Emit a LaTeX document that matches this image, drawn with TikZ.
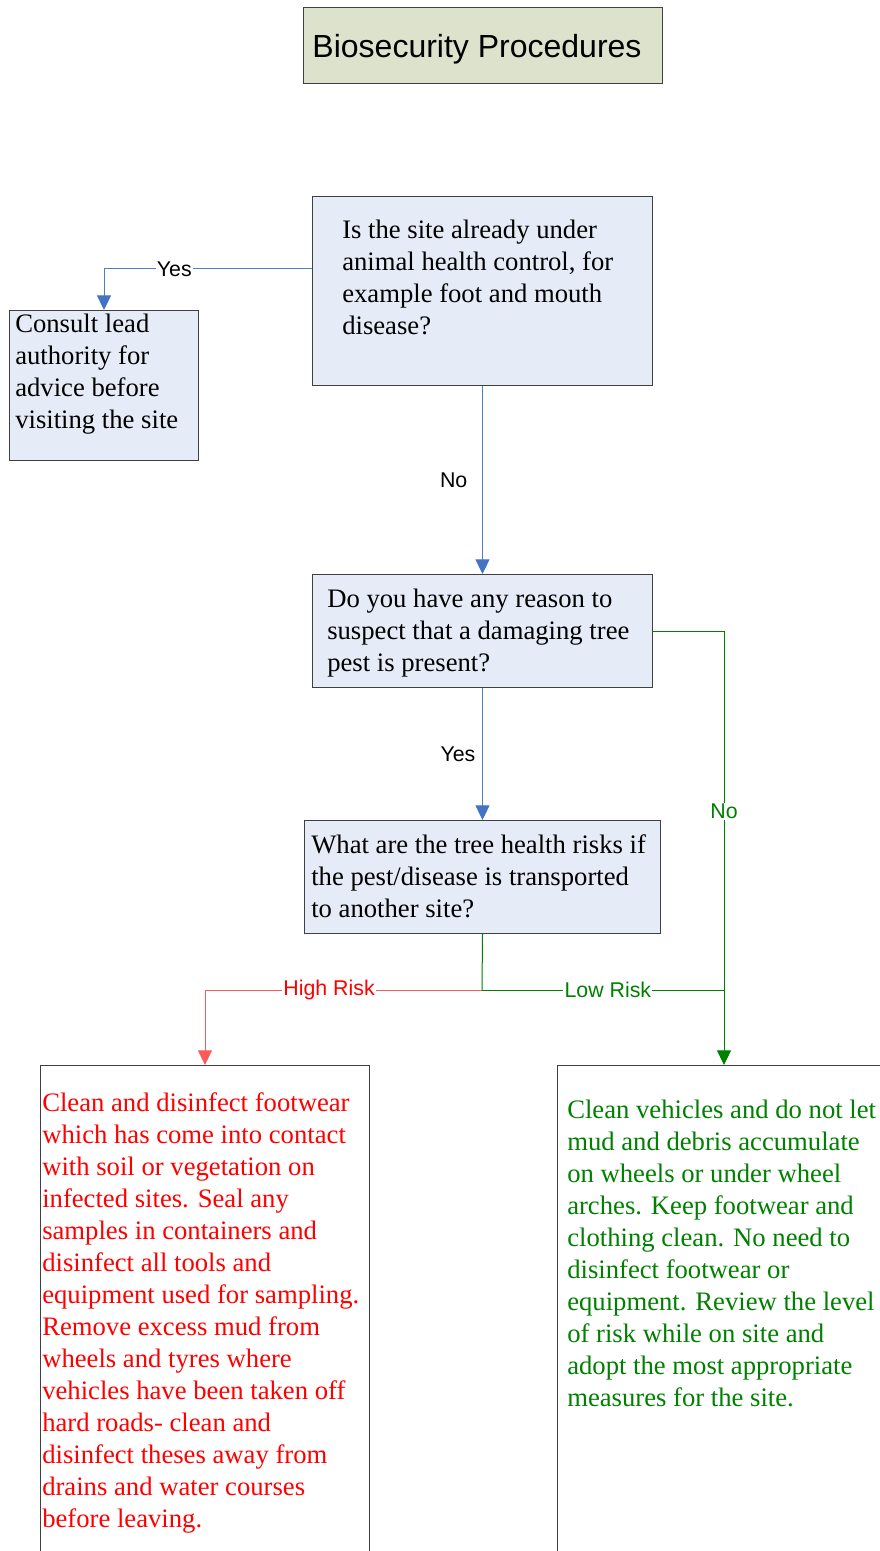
\documentclass[tikz,border=0pt]{standalone}
\usepackage{fontspec}
\setmainfont{Liberation Serif}
\setsansfont{Liberation Sans}
\usetikzlibrary{arrows.meta}

\definecolor{titlefill}{RGB}{221,226,204}
\definecolor{boxfill}{RGB}{230,236,247}
\definecolor{boxline}{RGB}{64,64,64}
\definecolor{flowblue}{RGB}{79,129,189}
\definecolor{tipblue}{RGB}{68,114,196}
\definecolor{riskred}{RGB}{255,0,0}
\definecolor{redline}{RGB}{255,90,90}
\definecolor{riskgreen}{RGB}{0,128,0}

\tikzset{
  flowbox/.style={draw=boxline, line width=0.75pt, fill=boxfill, anchor=north west, inner sep=0pt},
  boxtext/.style={anchor=north west, inner sep=0pt, align=left, font=\fontsize{20pt}{24pt}\selectfont},
  lbl/.style={font=\sffamily\fontsize{16pt}{18pt}\selectfont, inner sep=1pt},
  blueflow/.style={draw=flowblue, line width=0.75pt, -{Triangle[width=10.5pt,length=11pt,color=tipblue]}},
  redflow/.style={draw=redline, line width=0.75pt, -{Triangle[width=10.5pt,length=11pt,color=redline]}},
  greenflow/.style={draw=riskgreen, line width=0.75pt, -{Triangle[width=10.5pt,length=11pt,color=riskgreen]}},
  greenline/.style={draw=riskgreen, line width=0.75pt}
}

\begin{document}
\begin{tikzpicture}[x=0.75pt,y=-0.75pt]
\clip (0,0) rectangle (880,1551);

\node[flowbox, fill=titlefill, minimum width=269.25pt, minimum height=57pt, text depth=0pt, font=\sffamily\fontsize{24pt}{28pt}\selectfont] (title) at (303,7) {Biosecurity Procedures\hspace*{9pt}};

\node[flowbox, minimum width=255pt, minimum height=141.75pt] (siteq) at (312,196) {};
\node[boxtext] (sitetext) at (342,219.5) {Is the site already under\\animal health control, for\\example foot and mouth\\disease?};

\node[flowbox, minimum width=141.75pt, minimum height=112.5pt] (consult) at (9,310) {};
\node[boxtext] (consulttext) at (15,313.5) {Consult lead\\authority for\\advice before\\visiting the site};

\node[flowbox, minimum width=255pt, minimum height=84.75pt] (pestq) at (312,574) {};
\node[boxtext] (pesttext) at (327,588.5) {Do you have any reason to\\suspect that a damaging tree\\pest is present?};

\node[flowbox, minimum width=267pt, minimum height=84.75pt] (riskq) at (304,820) {};
\node[boxtext] (risktext) at (311,834.5) {What are the tree health risks if\\the pest/disease is transported\\to another site?};

\node[flowbox, fill=white, minimum width=246.75pt, minimum height=450pt] (highbox) at (40,1065) {};
\node[boxtext, text=riskred] (hightext) at (42,1092.5) {Clean and disinfect footwear\\which has come into contact\\with soil or vegetation on\\infected sites. Seal any\\samples in containers and\\disinfect all tools and\\equipment used for sampling.\\Remove excess mud from\\wheels and tyres where\\vehicles have been taken off\\hard roads- clean and\\disinfect theses away from\\drains and water courses\\before leaving.};

\node[flowbox, fill=white, minimum width=300pt, minimum height=450pt] (lowbox) at (557,1065) {};
\node[boxtext, text=riskgreen] (lowtext) at (567,1099.5) {Clean vehicles and do not let\\mud and debris accumulate\\on wheels or under wheel\\arches. Keep footwear and\\clothing clean. No need to\\disinfect footwear or\\equipment. Review the level\\of risk while on site and\\adopt the most appropriate\\measures for the site.};

\coordinate (split) at (482,990);
\coordinate (join) at (724,990);

\draw[blueflow] ([yshift=-54.75pt]siteq.north west) -| node[lbl, pos=0.331, fill=white] (yesa) {Yes} (consult.north);
\draw[blueflow] (siteq.south) -- node[lbl, midway, left=10pt] (noa) {No} (pestq.north);
\draw[blueflow] (pestq.south) -- node[lbl, midway, left=4pt] (yesb) {Yes} (riskq.north);
\draw[greenflow] (pestq.east) -| node[lbl, pos=0.708, fill=white, text=riskgreen] (nob) {No} ([xshift=125.25pt]lowbox.north west);
\draw[greenline] (riskq.south) -- (split);
\draw[redflow] (split) -| node[lbl, pos=0.276, fill=white, text=riskred] (high) {High Risk} (highbox.north);
\draw[greenline] (split) -- node[lbl, pos=0.52, fill=white, text=riskgreen] (low) {Low Risk} (join);
\end{tikzpicture}
\end{document}
